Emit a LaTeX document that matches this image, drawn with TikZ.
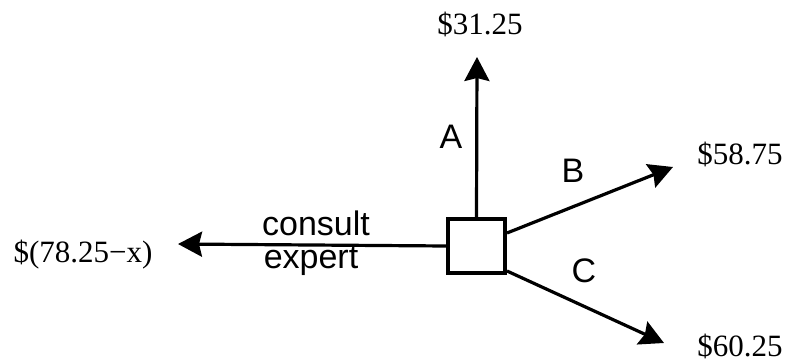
\documentclass[tikz,border=0pt]{standalone}
\usepackage{fontspec}
\setmainfont{Liberation Serif}
\setsansfont{Liberation Sans}
\usetikzlibrary{arrows.meta}
\begin{document}
\begin{tikzpicture}[x=1pt,y=-1pt,
  conn/.style={line width=3.2pt,-{Stealth[length=24pt,width=25pt,inset=3pt]}},
  val/.style={font=\fontsize{31}{33}\selectfont, anchor=base, inner sep=0pt},
  lab/.style={font=\sffamily\fontsize{34}{36}\selectfont, anchor=base, inner sep=0pt}]
\useasboundingbox (0,0) rectangle (787,362);
\node[draw, line width=3.2pt, minimum width=57pt, minimum height=54pt, inner sep=0pt] (sq) at (476.5,246) {};
\coordinate (tA) at (477,57);
\coordinate (tB) at (673,167);
\coordinate (tC) at (664,343);
\coordinate (tX) at (178,244);
\coordinate (sB) at (507,233);
\coordinate (sC) at (507,271);
\draw[conn] (sq.north) -- (tA);
\draw[conn] (sB) -- (tB);
\draw[conn] (sC) -- (tC);
\draw[conn] (sq.west) -- (tX);
\node[val] (vA) at (480,34) {\$31.25};
\node[val] (vB) at (740,164) {\$58.75};
\node[val] (vC) at (740,356) {\$60.25};
\node[val] (vX) at (83,262) {\$(78.25−x)};
\node[lab] (lA) at (451,148) {A};
\node[lab] (lB) at (573,182) {B};
\node[lab] (lC) at (584,282) {C};
\node[lab] (l1) at (316,235) {consult};
\node[lab] (l2) at (311,268) {expert};
\end{tikzpicture}
\end{document}
